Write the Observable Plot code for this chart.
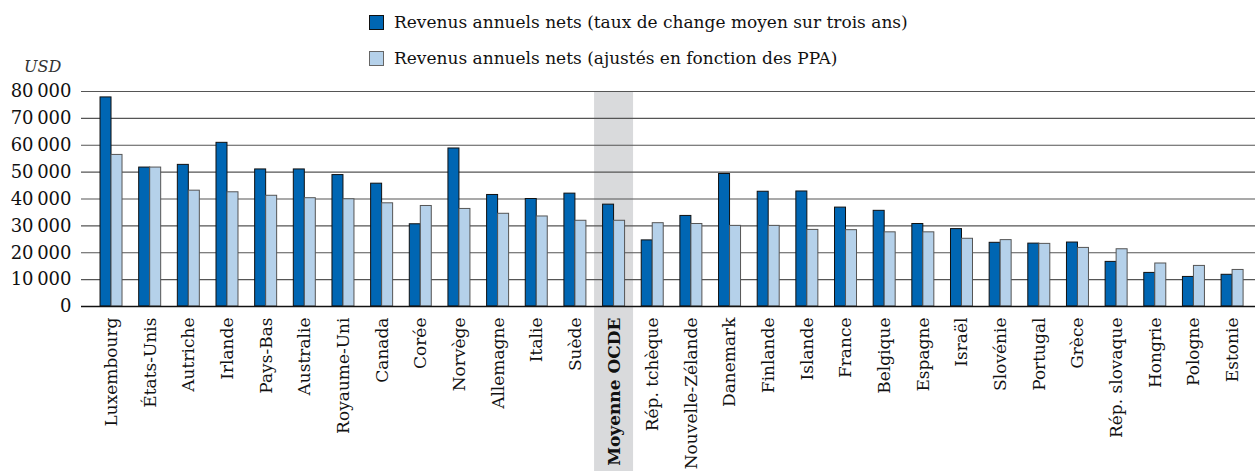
<!DOCTYPE html>
<html>
<head>
<meta charset="utf-8">
<script src="https://cdn.jsdelivr.net/npm/d3@7"></script>
<script src="https://cdn.jsdelivr.net/npm/@observablehq/plot@0.6"></script>
<style>
  html, body { margin: 0; padding: 0; background: #fff; }
  #wrap { position: relative; width: 1255px; height: 471px; font-family: "DejaVu Serif", serif; }
  .legend { position: absolute; left: 369px; top: 0; font-size: 17px; color: #111; }
  .legend .row { position: absolute; left: 0; white-space: nowrap; display: flex; align-items: center; height: 18px; }
  .legend .sw { width: 15px; height: 15px; margin-right: 10px; box-sizing: border-box; }
  .usd { position: absolute; left: 24px; top: 57px; font-style: italic; font-size: 16px; color: #333; }
  #chart svg { display: block; }
</style>
</head>
<body>
<div id="wrap">
  <div id="chart"></div>
  <div class="legend" id="legend"></div>
  <div class="usd">USD</div>
</div>
<script>
const countries = ["Luxembourg","États-Unis","Autriche","Irlande","Pays-Bas","Australie","Royaume-Uni","Canada","Corée","Norvège","Allemagne","Italie","Suède","Moyenne OCDE","Rép. tchèque","Nouvelle-Zélande","Danemark","Finlande","Islande","France","Belgique","Espagne","Israël","Slovénie","Portugal","Grèce","Rép. slovaque","Hongrie","Pologne","Estonie"];
const fxValues  = [77800,51700,52700,60900,51000,51000,48900,45700,30600,58800,41500,40000,42000,37900,24600,33700,49300,42700,42800,36800,35600,30700,28800,23700,23400,23800,16600,12500,11000,11800];
const pppValues = [56400,51700,43100,42500,41200,40300,39900,38400,37400,36300,34500,33500,31900,31900,31000,30700,30000,30000,28500,28400,27600,27600,25200,24700,23300,21800,21300,16000,15100,13600];
const seriesNames = ["Revenus annuels nets (taux de change moyen sur trois ans)", "Revenus annuels nets (ajustés en fonction des PPA)"];
const yTicks = [0,10000,20000,30000,40000,50000,60000,70000,80000];
const highlight = ["Moyenne OCDE"];

const colors = {dark: "#0066b3", light: "#b5d1ea"};
const rows = countries.map((c, i) => ({country: c, fx: fxValues[i], ppp: pppValues[i]}));
const fmt = v => d3.format(",")(v).replace(/,/g, "\u2009");

const chart = Plot.plot({
  width: 1255,
  height: 471,
  marginLeft: 81,
  marginRight: 0,
  marginTop: 91,
  marginBottom: 165,
  style: {fontFamily: "DejaVu Serif, serif", fontSize: "17px", color: "#111", background: "#fff"},
  x: {domain: countries, paddingInner: 0.431, paddingOuter: 0.4, align: 0.615, round: false, label: null},
  y: {domain: [0, 80000], label: null},
  marks: [
    Plot.barY(highlight, {x: d => d, y1: 0, y2: 80000, fill: "#d9dadc", insetLeft: -8.5, insetRight: -8.5, insetBottom: -166}),
    Plot.ruleY(yTicks.filter(d => d > 0), {stroke: "#555", strokeWidth: 1.2}),
    Plot.barY(rows, {x: "country", y: "fx", fill: colors.dark, stroke: "#111", strokeWidth: 1, insetRight: 11}),
    Plot.barY(rows, {x: "country", y: "ppp", fill: colors.light, stroke: "#555", strokeWidth: 1, insetLeft: 11}),
    Plot.ruleY([0], {stroke: "#111", strokeWidth: 1.3}),
    Plot.axisY({ticks: yTicks, tickFormat: fmt, tickSize: 0, tickPadding: 10, fontSize: 18, label: null}),
    Plot.axisX({tickRotate: -90, tickSize: 0, tickPadding: 11, fontSize: 17, label: null})
  ]
});
document.getElementById("chart").appendChild(chart);

// bold the OECD average tick label
d3.select(chart).selectAll("text").filter(function() { return this.textContent === "Moyenne OCDE"; })
  .attr("font-weight", "bold");

// legend
const lg = d3.select("#legend");
seriesNames.forEach((name, i) => {
  const row = lg.append("div").attr("class", "row").style("top", (i === 0 ? 13 : 49) + "px");
  row.append("div").attr("class", "sw")
    .style("background", i === 0 ? colors.dark : colors.light)
    .style("border", i === 0 ? "1.5px solid #111" : "1.5px solid #666");
  row.append("span").text(name);
});
</script>
</body>
</html>
